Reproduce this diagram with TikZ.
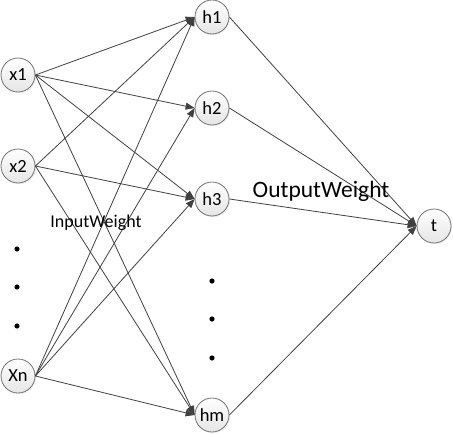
\documentclass[tikz,border=0pt]{standalone}
\usepackage{fontspec}
\setmainfont{Carlito}
\usetikzlibrary{arrows.meta, shadows}
\definecolor{linegray}{rgb}{0.25, 0.25, 0.25}
\definecolor{rimgray}{rgb}{0.45, 0.45, 0.45}
\tikzset{
  neuron/.style={circle, minimum size=34pt, inner sep=0pt, draw=rimgray, line width=0.8pt,
    top color=white, bottom color=black!10,
    drop shadow={opacity=0.12, shadow xshift=1.2pt, shadow yshift=-1.2pt},
    font=\fontsize{18.5}{20}\selectfont},
  weight/.style={draw=linegray, line width=0.8pt, -{Triangle[length=9pt, width=7pt]}}
}
\begin{document}
\begin{tikzpicture}[x=1pt, y=-1pt]
  \useasboundingbox (0,0) rectangle (453,434);

  \node[neuron] (x1) at (18, 75)  {x1};
  \node[neuron] (x2) at (18, 166) {x2};
  \node[neuron] (xn) at (18, 376) {Xn};
  \fill (17, 249) circle (2.6pt);
  \fill (17, 287) circle (2.6pt);
  \fill (17, 326) circle (2.6pt);

  \node[neuron] (h1) at (212, 17)  {h1};
  \node[neuron] (h2) at (212, 108) {h2};
  \node[neuron] (h3) at (212, 199) {h3};
  \node[neuron] (hm) at (212, 415) {hm};
  \fill (212, 281) circle (2.6pt);
  \fill (212, 319) circle (2.6pt);
  \fill (212, 358) circle (2.6pt);

  \node[neuron] (t) at (434, 226) {t};

  \foreach \from/\to in {x1/h1, x1/h2, x1/h3, x1/hm, x2/h1, x2/h3, x2/hm,
                         xn/h1, xn/h2, xn/h3, xn/hm}
    \draw[weight] (\from.east) -- (\to.west);
  \foreach \from in {h1, h2, h3, hm}
    \draw[weight] (\from.east) -- (t.west);

  \node[font=\fontsize{18}{20}\selectfont] (inw) at (96, 223) {InputWeight};
  \node[font=\fontsize{23.5}{26}\selectfont] (outw) at (321, 191) {OutputWeight};

\end{tikzpicture}
\end{document}
